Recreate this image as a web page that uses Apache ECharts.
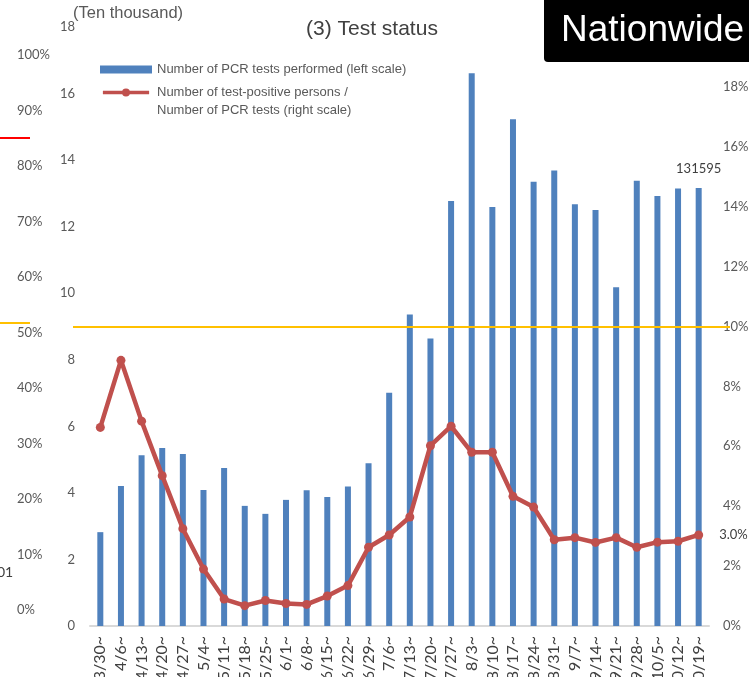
<!DOCTYPE html>
<html>
<head>
<meta charset="utf-8">
<script src="https://cdn.jsdelivr.net/npm/echarts@6/dist/echarts.min.js"></script>
<style>
html, body { margin: 0; padding: 0; background: #fff; }
#testChart { width: 749px; height: 677px; }
</style>
</head>
<body>
<div id="testChart"></div>
<script>
// week start dates
const weeks = ['3/30~', '4/6~', '4/13~', '4/20~', '4/27~', '5/4~', '5/11~', '5/18~', '5/25~', '6/1~',
  '6/8~', '6/15~', '6/22~', '6/29~', '7/6~', '7/13~', '7/20~', '7/27~', '8/3~', '8/10~',
  '8/17~', '8/24~', '8/31~', '9/7~', '9/14~', '9/21~', '9/28~', '10/5~', '10/12~', '10/19~'];
// PCR tests performed, in ten thousands (left scale)
const pcrTests = [2.82, 4.21, 5.13, 5.35, 5.17, 4.09, 4.75, 3.61, 3.37, 3.79,
  4.08, 3.88, 4.19, 4.89, 7.01, 9.36, 8.64, 12.77, 16.61, 12.59,
  15.23, 13.35, 13.69, 12.67, 12.50, 10.18, 13.38, 12.92, 13.15, 13.1595];
// positive persons / PCR tests, % (right scale)
const positiveRate = [6.63, 8.87, 6.84, 5.02, 3.25, 1.90, 0.90, 0.68, 0.85, 0.75,
  0.72, 1.00, 1.35, 2.63, 3.04, 3.64, 6.02, 6.67, 5.80, 5.80,
  4.33, 3.97, 2.88, 2.95, 2.79, 2.95, 2.63, 2.80, 2.83, 3.04];
// reference lines
const mainThreshold = [10];
// remnants of the neighbouring chart on the slide
const sideThresholds = [85.1, 51.7];

const barName = 'Number of PCR tests performed (left scale)';
const lineName = 'Number of test-positive persons /\nNumber of PCR tests (right scale)';

const numFont = 'Lato';
const txtFont = 'Liberation Sans';

const lastIdx = pcrTests.length - 1;

// legend icon for the line series: thick stroke with a dot in the middle
const lineIcon = 'path://M0,2.5 L52,2.5 L52,6.5 L0,6.5 Z M30.5,4.5 A4.5,4.5 0 1 1 21.5,4.5 A4.5,4.5 0 1 1 30.5,4.5 Z';

const option = {
  backgroundColor: '#fff',
  animation: false,
  title: [
    { text: '(3) Test status', left: 301, top: 14,
      textStyle: { fontFamily: txtFont, fontSize: 21, fontWeight: 'normal', color: '#404040' } },
    { text: '(Ten thousand)', left: 68, top: 0,
      textStyle: { fontFamily: txtFont, fontSize: 16.5, fontWeight: 'normal', color: '#595959' } }
  ],
  legend: {
    orient: 'vertical',
    left: 95,
    top: 58,
    itemWidth: 52,
    itemHeight: 8,
    itemGap: 10,
    textStyle: { fontFamily: txtFont, fontSize: 13, color: '#595959' },
    formatter: name => name.split('\n')[0],
    data: [{ name: barName, icon: 'rect' }, { name: lineName, icon: lineIcon }]
  },
  graphic: [
    { type: 'text', left: 157, top: 104,
      style: { text: 'Number of PCR tests (right scale)', font: '13px "Liberation Sans"', fill: '#595959' } },
    { type: 'rect', z: 100, shape: { x: 544, y: -10, width: 230, height: 72, r: 4 }, style: { fill: '#000' } },
    { type: 'text', z: 101, x: 561, y: 31,
      style: { text: 'Nationwide', font: '37px "Liberation Sans"', fill: '#fff', verticalAlign: 'middle' } },
    { type: 'text', x: -3, y: 572,
      style: { text: '01', font: '14px Lato', fill: '#404040', verticalAlign: 'middle' } }
  ],
  grid: [
    { left: 90, right: 40, top: 27, bottom: 51, outerBoundsMode: 'none' },
    { left: 73, right: 19, top: 27, bottom: 51, outerBoundsMode: 'none' },
    { left: -300, width: 330, top: 55, bottom: 67, outerBoundsMode: 'none' }
  ],
  xAxis: [
    {
      type: 'category',
      gridIndex: 0,
      data: weeks,
      axisTick: { show: false },
      axisLine: { lineStyle: { color: '#D9D9D9', width: 2 } },
      axisLabel: { rotate: 90, margin: 10, interval: 0, fontFamily: numFont, fontSize: 16, color: '#404040' }
    },
    { type: 'value', gridIndex: 1, show: false },
    { type: 'value', gridIndex: 2, show: false }
  ],
  yAxis: [
    {
      type: 'value', gridIndex: 0, position: 'left',
      min: 0, max: 18, interval: 2,
      splitLine: { show: false },
      axisLine: { show: false },
      axisTick: { show: false },
      axisLabel: { margin: 15, fontFamily: numFont, fontSize: 13, color: '#595959' }
    },
    {
      type: 'value', gridIndex: 0, position: 'right',
      min: 0, max: 20, interval: 2,
      splitLine: { show: false },
      axisLine: { show: false },
      axisTick: { show: false },
      axisLabel: { margin: 14, formatter: '{value}%', fontFamily: numFont, fontSize: 13, color: '#595959' }
    },
    { type: 'value', gridIndex: 1, min: 0, max: 20, show: false },
    {
      type: 'value', gridIndex: 2, position: 'right',
      min: 0, max: 100, interval: 10,
      splitLine: { show: false },
      axisLine: { show: false },
      axisTick: { show: false },
      axisLabel: { inside: true, align: 'left', margin: 13, formatter: '{value}%',
        fontFamily: numFont, fontSize: 13, color: '#595959' }
    }
  ],
  series: [
    {
      name: barName,
      type: 'bar',
      xAxisIndex: 0,
      yAxisIndex: 0,
      barWidth: 6,
      itemStyle: { color: '#4F81BD' },
      data: pcrTests.map((v, i) => i === lastIdx ? {
        value: v,
        label: { show: true, position: 'top', distance: 13, fontFamily: numFont, fontSize: 13, color: '#404040',
          formatter: p => Math.round(p.value * 10000) }
      } : v)
    },
    {
      type: 'line',
      xAxisIndex: 1,
      yAxisIndex: 2,
      data: [],
      silent: true,
      markLine: {
        symbol: 'none', silent: true, label: { show: false },
        lineStyle: { color: '#FFC000', width: 2, type: 'solid' },
        data: mainThreshold.map(v => ({ yAxis: v }))
      }
    },
    {
      type: 'line',
      xAxisIndex: 2,
      yAxisIndex: 3,
      data: [],
      silent: true,
      markLine: {
        symbol: 'none', silent: true, label: { show: false },
        data: [
          { yAxis: sideThresholds[0], lineStyle: { color: '#FF0000', width: 2, type: 'solid' } },
          { yAxis: sideThresholds[1], lineStyle: { color: '#FFC000', width: 2, type: 'solid' } }
        ]
      }
    },
    {
      name: lineName,
      type: 'line',
      xAxisIndex: 0,
      yAxisIndex: 1,
      symbol: 'circle',
      symbolSize: 9,
      z: 5,
      lineStyle: { color: '#C0504D', width: 4.5 },
      itemStyle: { color: '#C0504D' },
      data: positiveRate.map((v, i) => i === lastIdx ? {
        value: v,
        label: { show: true, position: 'right', distance: 16, fontFamily: numFont, fontSize: 13, color: '#404040',
          formatter: p => p.value.toFixed(1) + '%' }
      } : v)
    }
  ]
};

const myChart = echarts.init(document.getElementById('testChart'));
myChart.setOption(option);
</script>
</body>
</html>
